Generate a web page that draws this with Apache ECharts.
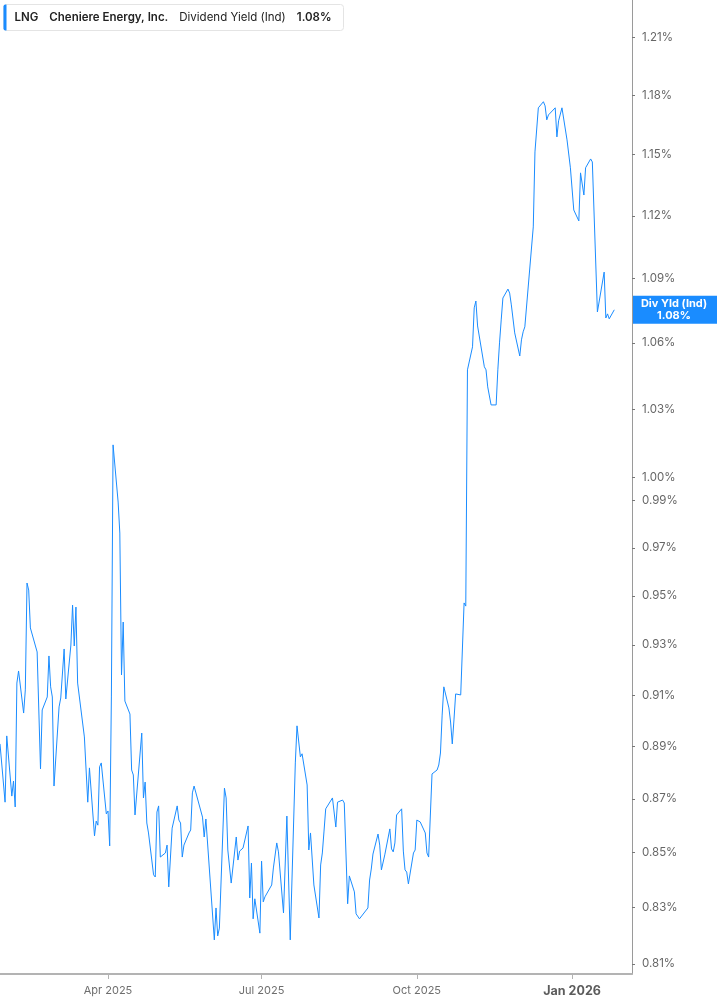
<!DOCTYPE html>
<html>
<head>
<meta charset="utf-8">
<script src="https://cdn.jsdelivr.net/npm/echarts@6/dist/echarts.min.js"></script>
<style>
html,body{margin:0;padding:0;background:#fff;}
#chart{width:717px;height:1005px;}
</style>
</head>
<body>
<div id="chart"></div>
<script>
const ticker = 'LNG';
const company = 'Cheniere Energy, Inc.';
const metric = 'Dividend Yield (Ind)';
const shortMetric = 'Div Yld (Ind)';

const dates = [
'2025-01-27','2025-01-30','2025-01-31','2025-02-03','2025-02-04','2025-02-05','2025-02-06','2025-02-07',
'2025-02-10','2025-02-11','2025-02-12','2025-02-13','2025-02-14','2025-02-18','2025-02-20','2025-02-21',
'2025-02-24','2025-02-25','2025-02-26','2025-02-27','2025-02-28','2025-03-03','2025-03-04','2025-03-06',
'2025-03-07','2025-03-10','2025-03-11','2025-03-12','2025-03-13','2025-03-14','2025-03-18','2025-03-20',
'2025-03-21','2025-03-24','2025-03-25','2025-03-26','2025-03-27','2025-03-28','2025-03-31','2025-04-01',
'2025-04-02','2025-04-03','2025-04-04','2025-04-07','2025-04-08','2025-04-09','2025-04-10','2025-04-11',
'2025-04-14','2025-04-15','2025-04-16','2025-04-17','2025-04-21','2025-04-22','2025-04-23','2025-04-24',
'2025-04-25','2025-04-28','2025-04-29','2025-04-30','2025-05-01','2025-05-02','2025-05-05','2025-05-06',
'2025-05-07','2025-05-09','2025-05-12','2025-05-13','2025-05-14','2025-05-15','2025-05-16','2025-05-19',
'2025-05-20','2025-05-21','2025-05-22','2025-05-27','2025-05-28','2025-05-29','2025-06-03','2025-06-04',
'2025-06-05','2025-06-06','2025-06-09','2025-06-10','2025-06-11','2025-06-12','2025-06-13','2025-06-16',
'2025-06-17','2025-06-18','2025-06-20','2025-06-23','2025-06-24','2025-06-25','2025-06-26','2025-06-27',
'2025-06-30','2025-07-01','2025-07-02','2025-07-03','2025-07-07','2025-07-08','2025-07-10','2025-07-11',
'2025-07-14','2025-07-16','2025-07-17','2025-07-18','2025-07-21','2025-07-22','2025-07-24','2025-07-25',
'2025-07-28','2025-07-29','2025-07-30','2025-08-01','2025-08-04','2025-08-05','2025-08-06','2025-08-07',
'2025-08-08','2025-08-12','2025-08-14','2025-08-15','2025-08-18','2025-08-19','2025-08-21','2025-08-22',
'2025-08-25','2025-08-26','2025-08-27','2025-08-28','2025-09-02','2025-09-03','2025-09-04','2025-09-05',
'2025-09-08','2025-09-09','2025-09-10','2025-09-11','2025-09-12','2025-09-15','2025-09-16','2025-09-17',
'2025-09-18','2025-09-19','2025-09-22','2025-09-23','2025-09-24','2025-09-25','2025-09-26','2025-09-29',
'2025-09-30','2025-10-01','2025-10-02','2025-10-03','2025-10-06','2025-10-07','2025-10-08','2025-10-10',
'2025-10-13','2025-10-14','2025-10-15','2025-10-16','2025-10-17','2025-10-20','2025-10-21','2025-10-22',
'2025-10-23','2025-10-24','2025-10-27','2025-10-29','2025-10-30','2025-10-31','2025-11-03','2025-11-04',
'2025-11-05','2025-11-06','2025-11-07','2025-11-10','2025-11-11','2025-11-12','2025-11-13','2025-11-14',
'2025-11-17','2025-11-18','2025-11-19','2025-11-20','2025-11-21','2025-11-24','2025-11-25','2025-11-26',
'2025-11-28','2025-12-01','2025-12-02','2025-12-03','2025-12-04','2025-12-09','2025-12-10','2025-12-12',
'2025-12-15','2025-12-16','2025-12-17','2025-12-18','2025-12-22','2025-12-23','2025-12-24','2025-12-26',
'2025-12-29','2025-12-31','2026-01-02','2026-01-05','2026-01-06','2026-01-08','2026-01-09','2026-01-12',
'2026-01-13','2026-01-16','2026-01-20','2026-01-21','2026-01-22','2026-01-23','2026-01-26'
];

const yields = [
0.8910,0.8688,0.8941,0.8711,0.8768,0.8670,0.9148,0.9196,
0.9030,0.9121,0.9553,0.9524,0.9369,0.9272,0.8814,0.9042,
0.9093,0.9256,0.9133,0.9093,0.8749,0.9054,0.9089,0.9284,
0.9085,0.9300,0.9462,0.9296,0.9454,0.9148,0.8937,0.8688,
0.8818,0.8562,0.8617,0.8602,0.8822,0.8837,0.8644,0.8655,
0.8525,0.9093,1.0142,0.9894,0.9762,0.9180,0.9393,0.9077,
0.9026,0.8810,0.8791,0.8640,0.8952,0.8704,0.8764,0.8610,
0.8573,0.8419,0.8411,0.8651,0.8674,0.8484,0.8499,0.8528,
0.8375,0.8591,0.8674,0.8621,0.8610,0.8484,0.8528,0.8573,
0.8584,0.8723,0.8749,0.8632,0.8558,0.8625,0.8185,0.8299,
0.8199,0.8227,0.8741,0.8704,0.8510,0.8506,0.8389,0.8558,
0.8473,0.8506,0.8517,0.8599,0.8335,0.8462,0.8260,0.8332,
0.8209,0.8469,0.8321,0.8339,0.8382,0.8444,0.8536,0.8503,
0.8281,0.8636,0.8632,0.8185,0.8837,0.8980,0.8860,0.8872,
0.8753,0.8510,0.8573,0.8382,0.8263,0.8455,0.8499,0.8580,
0.8663,0.8704,0.8595,0.8688,0.8696,0.8685,0.8314,0.8415,
0.8357,0.8278,0.8274,0.8260,0.8299,0.8400,0.8440,0.8495,
0.8569,0.8528,0.8437,0.8437,0.8492,0.8588,0.8514,0.8503,
0.8536,0.8640,0.8663,0.8506,0.8437,0.8429,0.8386,0.8499,
0.8510,0.8621,0.8625,0.8614,0.8573,0.8499,0.8484,0.8795,
0.8810,0.8829,0.8875,0.9022,0.9133,0.9050,0.8995,0.8910,
0.9003,0.9105,0.9101,0.9471,0.9458,1.0477,1.0582,1.0762,
1.0794,1.0678,1.0683,1.0491,1.0477,1.0400,1.0404,1.0319,
1.0319,1.0477,1.0600,1.0706,1.0808,1.0850,1.0831,1.0776,
1.0646,1.0540,1.0614,1.0651,1.0674,1.1146,1.1514,1.1736,
1.1767,1.1746,1.1675,1.1700,1.1736,1.1589,1.1670,1.1736,
1.1574,1.1435,1.1228,1.1175,1.1410,1.1301,1.1435,1.1479,
1.1464,1.0743,1.0930,1.0715,1.0734,1.0711,1.0753
];

const yTicks = [0.81,0.83,0.85,0.87,0.89,0.91,0.93,0.95,0.97,0.99,1.00,1.03,1.06,1.09,1.12,1.15,1.18,1.21];
const xTicks = ['2025-04-01','2025-07-01','2025-10-01','2026-01-01'];
const xMin = '2025-01-27';
const xMax = '2026-02-05T12:00:00';
const yMin = 0.8065;
const yMax = 1.2297;

const monthNames = ['Jan','Feb','Mar','Apr','May','Jun','Jul','Aug','Sep','Oct','Nov','Dec'];
const lineColor = '#1a8cff';
const FONT = 'Inter, "Noto Sans", sans-serif';

function ts(s) { return new Date(s.length === 10 ? s + 'T00:00:00' : s).getTime(); }

const seriesData = dates.map((d, i) => [ts(d), yields[i]]);
const lastVal = yields[yields.length - 1];
const lastText = lastVal.toFixed(2) + '%';
const xTickTs = xTicks.map(ts);

const chart = echarts.init(document.getElementById('chart'), null, {renderer: 'canvas'});

const option = {
  animation: false,
  backgroundColor: '#fff',
  textStyle: {fontFamily: FONT},
  grid: {left: 0, right: 85, top: 0, bottom: 31, containLabel: false},
  xAxis: {
    type: 'value',
    min: ts(xMin),
    max: ts(xMax),
    scale: true,
    splitLine: {show: false},
    axisLine: {show: true, lineStyle: {color: '#b3b3b3', width: 2}},
    axisTick: {show: true, length: 5, lineStyle: {color: '#b3b3b3', width: 1}, customValues: xTickTs},
    axisLabel: {
      customValues: xTickTs,
      margin: 11,
      color: '#6e6e6e',
      fontSize: 11,
      fontFamily: FONT,
      formatter: function (val) {
        const d = new Date(val);
        const m = d.getMonth();
        const s = monthNames[m] + ' ' + d.getFullYear();
        return m === 0 ? '{b|' + s + '}' : s;
      },
      rich: {b: {fontWeight: 'bold', fontSize: 12.5, color: '#5c5c5c', fontFamily: FONT}}
    }
  },
  yAxis: {
    type: 'log',
    logBase: 10,
    position: 'right',
    min: yMin,
    max: yMax,
    splitLine: {show: false},
    axisLine: {show: true, lineStyle: {color: '#9a9a9a', width: 1}},
    axisTick: {show: true, length: 3, lineStyle: {color: '#777', width: 1}, customValues: yTicks},
    axisLabel: {
      customValues: yTicks,
      margin: 10,
      color: '#666',
      fontSize: 11.5,
      fontFamily: FONT,
      formatter: function (v) { return Number(v).toFixed(2) + '%'; }
    }
  },
  series: [{
    type: 'line',
    data: seriesData,
    showSymbol: false,
    symbol: 'none',
    lineStyle: {color: lineColor, width: 1},
    silent: true
  }]
};

chart.setOption(option);

// Current-value tag on the right axis, placed through the chart's own scales
const tagY = chart.convertToPixel({yAxisIndex: 0}, lastVal);
const tagX = chart.convertToPixel({xAxisIndex: 0}, ts(xMax));
const tagW = chart.getWidth() - tagX;

chart.setOption({
  graphic: [
    {
      id: 'legendBox',
      type: 'group',
      left: 3,
      top: 4,
      children: [
        {type: 'rect', shape: {x: 0, y: 0, width: 340, height: 26, r: 3}, style: {fill: '#fff', stroke: '#e4e4e4', lineWidth: 1}},
        {type: 'rect', shape: {x: 0, y: 0, width: 3, height: 26, r: [2, 0, 0, 2]}, style: {fill: lineColor}},
        {type: 'text', x: 11, y: 13, style: {
          text: '{b|' + ticker + '}{g|}{b|' + company + '}{g|}{n|' + metric + '}{g|}{b|' + lastText + '}',
          verticalAlign: 'middle',
          rich: {
            b: {fontWeight: 600, fontSize: 11.5, fill: '#222', fontFamily: FONT},
            n: {fontWeight: 'normal', fontSize: 11.5, fill: '#222', fontFamily: FONT},
            g: {width: 11}
          }
        }}
      ]
    },
    {
      id: 'lastTag',
      type: 'group',
      x: tagX,
      y: tagY,
      z: 100,
      children: [
        {type: 'rect', shape: {x: 0, y: -14, width: tagW, height: 28}, style: {fill: lineColor}},
        {type: 'text', x: 42, y: 0, style: {
          text: shortMetric + '\n' + lastText,
          align: 'center',
          verticalAlign: 'middle',
          fill: '#fff',
          font: 'bold 11px ' + FONT,
          lineHeight: 12
        }}
      ]
    }
  ]
});
</script>
</body>
</html>
